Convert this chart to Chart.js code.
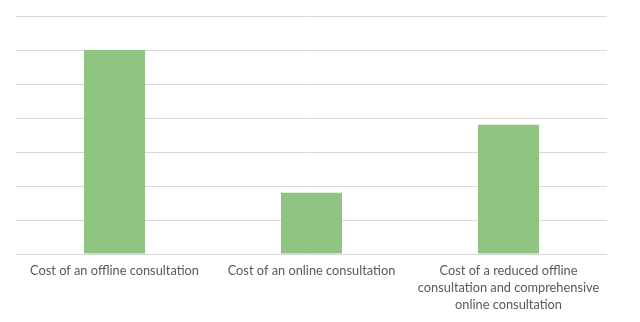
<!DOCTYPE html>
<html>
<head>
<meta charset="utf-8">
<style>
  html, body { margin: 0; padding: 0; background: #fff; }
  #wrap { width: 640px; height: 322px; }
</style>
<script src="https://cdn.jsdelivr.net/npm/chart.js@4/dist/chart.umd.min.js"></script>
</head>
<body>
<div id="wrap"><canvas id="costChart"></canvas></div>
<script>
// Categorias y valores (sin etiquetas numericas en el eje)
const categories = [
    ['Cost of an offline consultation'],
    ['Cost of an online consultation'],
    ['Cost of a reduced offline', 'consultation and comprehensive', 'online consultation']
];
const costValues = [6, 1.8, 3.8];
const yMax = 7;

const ctx = document.getElementById('costChart').getContext('2d');
new Chart(ctx, {
    type: 'bar',
    data: {
        labels: categories,
        datasets: [{
            data: costValues,
            backgroundColor: 'rgb(144, 196, 131)',
            borderWidth: 0,
            barPercentage: 0.62,
            categoryPercentage: 0.5
        }]
    },
    options: {
        responsive: true,
        maintainAspectRatio: false,
        animation: false,
        layout: { padding: { left: 16, right: 33, top: 16, bottom: 0 } },
        plugins: {
            legend: { display: false },
            tooltip: { enabled: false }
        },
        scales: {
            x: {
                grid: { display: false, drawTicks: false },
                border: { display: false },
                ticks: {
                    color: '#595959',
                    font: { family: 'Lato', size: 12.8, lineHeight: 1.3 },
                    padding: 9,
                    maxRotation: 0,
                    autoSkip: false
                },
                // altura fija del eje para que la base quede en su sitio
                afterFit: function (scale) { scale.height = 68; }
            },
            y: {
                min: 0,
                max: yMax,
                border: { display: false },
                grid: { color: '#d9d9d9', lineWidth: 1, drawTicks: false },
                ticks: { display: false, stepSize: 1 }
            }
        }
    }
});
</script>
</body>
</html>
